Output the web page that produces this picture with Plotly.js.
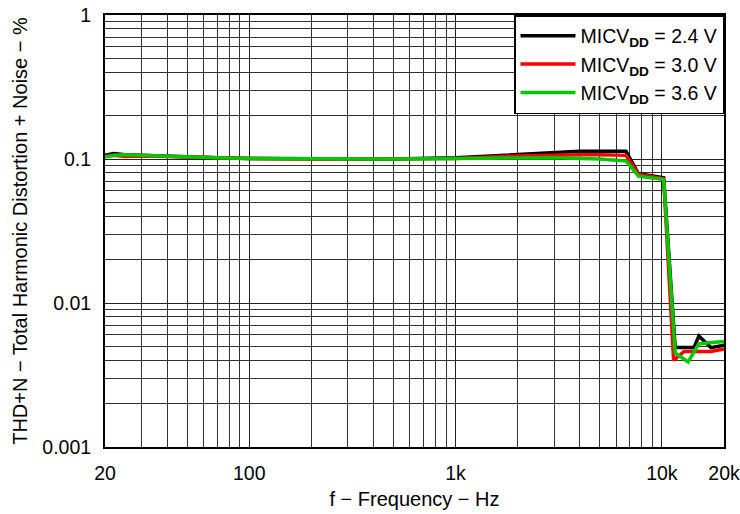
<!DOCTYPE html>
<html>
<head>
<meta charset="utf-8">
<script src="https://cdn.plot.ly/plotly-3.0.1.min.js"></script>
<style>html,body{margin:0;padding:0;background:#fff}#chart{width:740px;height:514px}</style>
</head>
<body>
<div id="chart"></div>
<script>
// Frequency points (Hz) for the flat region shared by all series
const freqMain = [20, 22, 25, 30, 40, 50, 70, 100, 200, 500, 1000, 2000, 3000, 4000, 5000, 6700, 7700, 10200];
const thd24Main = [0.106, 0.109, 0.107, 0.106, 0.104, 0.103, 0.102, 0.101, 0.100, 0.100, 0.102, 0.108, 0.111, 0.113, 0.113, 0.113, 0.079, 0.074];
const thd30Main = [0.104, 0.106, 0.104, 0.105, 0.104, 0.103, 0.102, 0.101, 0.100, 0.100, 0.101, 0.105, 0.107, 0.107, 0.107, 0.106, 0.078, 0.073];
const thd36Main = [0.103, 0.106, 0.107, 0.106, 0.104, 0.103, 0.102, 0.101, 0.100, 0.100, 0.101, 0.102, 0.102, 0.101, 0.100, 0.097, 0.076, 0.072];

// High-frequency tails
const freqTail24 = [11600, 14300, 15100, 17300, 20000];
const thd24Tail = [0.0049, 0.0049, 0.0059, 0.0049, 0.0051];
const freqTail30 = [11400, 12800, 15500, 17300, 20000];
const thd30Tail = [0.0040, 0.0046, 0.0046, 0.0046, 0.0048];
const freqTail36 = [11600, 13400, 15100, 16900, 20000];
const thd36Tail = [0.0045, 0.0039, 0.0052, 0.0053, 0.0054];

const seriesNames = ['MICV<sub><b>DD</b></sub> = 2.4 V', 'MICV<sub><b>DD</b></sub> = 3.0 V', 'MICV<sub><b>DD</b></sub> = 3.6 V'];
const seriesColors = ['#000000', '#ff0000', '#00c800'];

// Axis grid/tick values
const xGrid = [30,40,50,60,70,80,90,200,300,400,500,600,700,800,900,2000,3000,4000,5000,6000,7000,8000,9000];
const xLabelVals = [20, 100, 1000, 10000, 20000];
const xLabelText = ['20', '100', '1k', '10k', '20k'];
const yGrid = [0.002,0.003,0.004,0.005,0.006,0.007,0.008,0.009,0.02,0.03,0.04,0.05,0.06,0.07,0.08,0.09,0.2,0.3,0.4,0.5,0.6,0.7,0.8,0.9];
const yLabelVals = [0.001, 0.01, 0.1, 1];
const yLabelText = ['0.001', '0.01', '0.1', '1'];

const xs = [freqMain.concat(freqTail24), freqMain.concat(freqTail30), freqMain.concat(freqTail36)];
const ys = [thd24Main.concat(thd24Tail), thd30Main.concat(thd30Tail), thd36Main.concat(thd36Tail)];

const traces = xs.map((x, i) => ({
  x: x, y: ys[i], type: 'scatter', mode: 'lines', name: seriesNames[i],
  line: {color: seriesColors[i], width: 3.5}
}));

const font = {family: 'Liberation Sans, Arial, sans-serif', size: 19.5, color: '#000'};
const titleFont = {family: 'Liberation Sans, Arial, sans-serif', size: 20, color: '#000'};
const legendFont = {family: 'Liberation Sans, Arial, sans-serif', size: 19.5, color: '#000'};

const layout = {
  width: 740, height: 514,
  margin: {l: 105, r: 16, t: 15, b: 67},
  paper_bgcolor: '#fff', plot_bgcolor: '#fff',
  font: font,
  showlegend: true,
  legend: {x: 1, xanchor: 'right', y: 1, yanchor: 'top', bgcolor: '#fff', bordercolor: '#000', borderwidth: 1.5,
           font: legendFont, tracegroupgap: 0, itemwidth: 55},
  xaxis: {
    type: 'log', range: [Math.log10(20), Math.log10(20000)],
    tickmode: 'array', tickvals: xLabelVals, ticktext: xLabelText,
    ticks: '', showgrid: true, gridcolor: '#222', gridwidth: 1,
    minor: {tickmode: 'array', tickvals: xGrid, showgrid: true, gridcolor: '#333', gridwidth: 1, ticks: ''},
    showline: true, mirror: true, linecolor: '#000', linewidth: 2,
    ticklabelstandoff: 8, zeroline: false,
    title: {text: 'f \u2212 Frequency \u2212 Hz', font: titleFont, standoff: 9}
  },
  yaxis: {
    type: 'log', range: [-3, 0],
    tickmode: 'array', tickvals: yLabelVals, ticktext: yLabelText,
    ticks: '', showgrid: true, gridcolor: '#222', gridwidth: 1,
    minor: {tickmode: 'array', tickvals: yGrid, showgrid: true, gridcolor: '#333', gridwidth: 1, ticks: ''},
    showline: true, mirror: true, linecolor: '#000', linewidth: 2,
    ticklabelstandoff: 8, zeroline: false,
    title: {text: 'THD+N \u2212 Total Harmonic Distortion + Noise \u2212 %', font: titleFont, standoff: 9}
  }
};

Plotly.newPlot('chart', traces, layout, {displayModeBar: false, staticPlot: true});
</script>
</body>
</html>
